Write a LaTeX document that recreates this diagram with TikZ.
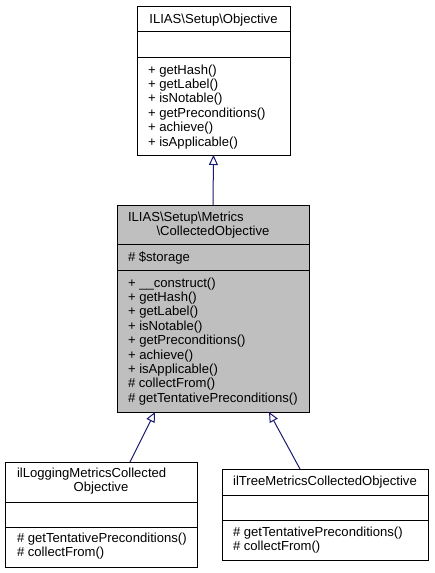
\documentclass[tikz,border=0pt]{standalone}
\usepackage{fontspec}
\setmainfont{Liberation Sans}
\usetikzlibrary{arrows.meta}
\definecolor{edgeblue}{RGB}{25,25,112}
\definecolor{classgray}{RGB}{191,191,191}
\begin{document}
\begin{tikzpicture}[x=1pt,y=-1pt,
  box/.style={draw=black,line width=1pt,inner sep=0pt,outer sep=0pt,anchor=north west,rectangle},
  divider/.style={draw=black,line width=1pt},
  txt/.style={font=\fontsize{13.1}{14.4}\selectfont,inner sep=0pt,outer sep=0pt},
  lt/.style={txt,anchor=base west},
  ct/.style={txt,anchor=base},
  inh/.style={draw=edgeblue,line width=1pt,-{Triangle[open,length=10pt,width=9pt]}}]
\useasboundingbox (0,0) rectangle (434,573);
% top class
\node[box,minimum width=153pt,minimum height=149pt] (top) at (137,6) {};
\draw[divider] (top.west |- 0,31) -- (top.east |- 0,31);
\draw[divider] (top.west |- 0,57) -- (top.east |- 0,57);
\node[ct] (toptitle) at (213.5,23) {ILIAS\textbackslash Setup\textbackslash Objective};
\foreach \t [count=\i from 0] in {+ getHash(),+ getLabel(),+ isNotable(),+ getPreconditions(),+ achieve(),+ isApplicable()}
  \node[lt] (topm\i) at (148,74+14.4*\i) {\t};
% middle class
\node[box,fill=classgray,minimum width=192pt,minimum height=207pt] (mid) at (117,205) {};
\draw[divider] (mid.west |- 0,244) -- (mid.east |- 0,244);
\draw[divider] (mid.west |- 0,270) -- (mid.east |- 0,270);
\node[lt] (midtitleA) at (128,221.5) {ILIAS\textbackslash Setup\textbackslash Metrics};
\node[ct] (midtitleB) at (213,235.9) {\textbackslash CollectedObjective};
\node[lt] (midattr) at (128,261.5) {\# \$storage};
\foreach \t [count=\i from 0] in {+ \_\_construct(),+ getHash(),+ getLabel(),+ isNotable(),+ getPreconditions(),+ achieve(),+ isApplicable(),\# collectFrom(),\# getTentativePreconditions()}
  \node[lt] (midm\i) at (128,287+14.4*\i) {\t};
% left class
\node[box,minimum width=192pt,minimum height=105pt] (left) at (5,462) {};
\draw[divider] (left.west |- 0,502) -- (left.east |- 0,502);
\draw[divider] (left.west |- 0,527) -- (left.east |- 0,527);
\node[lt] (lefttitleA) at (17,477.5) {ilLoggingMetricsCollected};
\node[ct] (lefttitleB) at (101,491.9) {Objective};
\node[lt] (leftm0) at (17,542.5) {\# getTentativePreconditions()};
\node[lt] (leftm1) at (17,556.9) {\# collectFrom()};
% right class
\node[box,minimum width=206pt,minimum height=91pt] (right) at (222,469) {};
\draw[divider] (right.west |- 0,495) -- (right.east |- 0,495);
\draw[divider] (right.west |- 0,520) -- (right.east |- 0,520);
\node[ct] (righttitle) at (325,485.5) {ilTreeMetricsCollectedObjective};
\node[lt] (rightm0) at (233,536.5) {\# getTentativePreconditions()};
\node[lt] (rightm1) at (233,550.9) {\# collectFrom()};
% inheritance
\draw[inh] (mid.north) -- (top.south);
\draw[inh] ([xshift=29pt]left.north) -- ([xshift=-58pt]mid.south);
\draw[inh] ([xshift=-25pt]right.north) -- ([xshift=56pt]mid.south);
\end{tikzpicture}
\end{document}
